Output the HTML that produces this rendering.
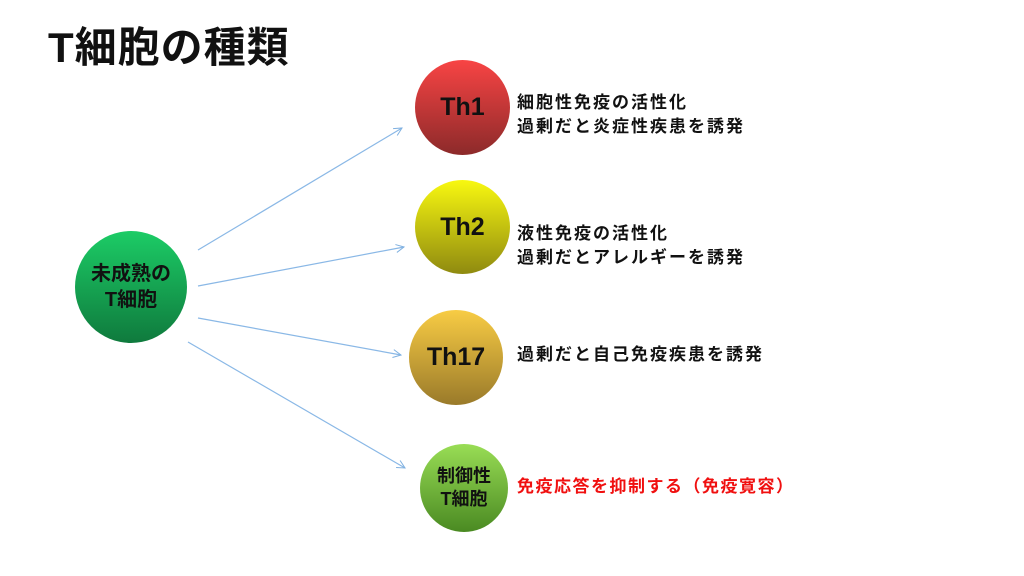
<!DOCTYPE html>
<html><head><meta charset="utf-8"><style>
body{margin:0;width:1024px;height:576px;background:#fff;overflow:hidden;position:relative;font-family:"Liberation Sans","Noto Sans CJK JP",sans-serif;}
.t{position:absolute;font-weight:bold;white-space:nowrap;}
.c{position:absolute;border-radius:50%;display:flex;align-items:center;justify-content:center;text-align:center;font-weight:bold;color:#111;}
</style></head><body>
<div class="t" style="left:48px;top:24px;font-size:42px;line-height:48px;color:#111;letter-spacing:1px;">T細胞の種類</div>
<svg width="1024" height="576" style="position:absolute;left:0;top:0">
<defs><marker id="a" markerWidth="10" markerHeight="10" refX="9" refY="5" orient="auto" markerUnits="userSpaceOnUse"><path d="M1,1 L9,5 L1,9" fill="none" stroke="#7fb0e0" stroke-width="1"/></marker></defs>
<g stroke="#8ab8e6" stroke-width="1.2" fill="none" marker-end="url(#a)">
<line x1="198" y1="250" x2="402" y2="128"/>
<line x1="198" y1="286" x2="404" y2="247"/>
<line x1="198" y1="318" x2="401" y2="355"/>
<line x1="188" y1="342" x2="405" y2="468"/>
</g></svg>
<div class="c" style="left:75px;top:231px;width:112px;height:112px;background:linear-gradient(#1ccc66,#0f7a3d);font-size:20px;line-height:26px;">未成熟の<br>T細胞</div>
<div class="c" style="left:415px;top:60px;width:95px;height:95px;background:linear-gradient(#f84444,#8c2a2a);font-size:25px;">Th1</div>
<div class="c" style="left:415px;top:180px;width:95px;height:94px;background:linear-gradient(#f8f810,#8f8a10);font-size:25px;">Th2</div>
<div class="c" style="left:409px;top:310px;width:94px;height:95px;background:linear-gradient(#f8cc44,#9a7a2a);font-size:25px;">Th17</div>
<div class="c" style="left:420px;top:444px;width:88px;height:88px;background:linear-gradient(#99dd55,#4a8a22);font-size:18px;line-height:23px;">制御性<br>T細胞</div>
<div class="t" style="left:517px;top:91px;font-size:17px;letter-spacing:2px;line-height:24px;color:#111;">細胞性免疫の活性化<br>過剰だと炎症性疾患を誘発</div>
<div class="t" style="left:517px;top:222px;font-size:17px;letter-spacing:2px;line-height:24px;color:#111;">液性免疫の活性化<br>過剰だとアレルギーを誘発</div>
<div class="t" style="left:517px;top:343px;font-size:17px;letter-spacing:2px;line-height:24px;color:#111;">過剰だと自己免疫疾患を誘発</div>
<div class="t" style="left:517px;top:475px;font-size:17px;letter-spacing:1.5px;line-height:24px;color:#f01010;">免疫応答を抑制する（免疫寛容）</div>
</body></html>
